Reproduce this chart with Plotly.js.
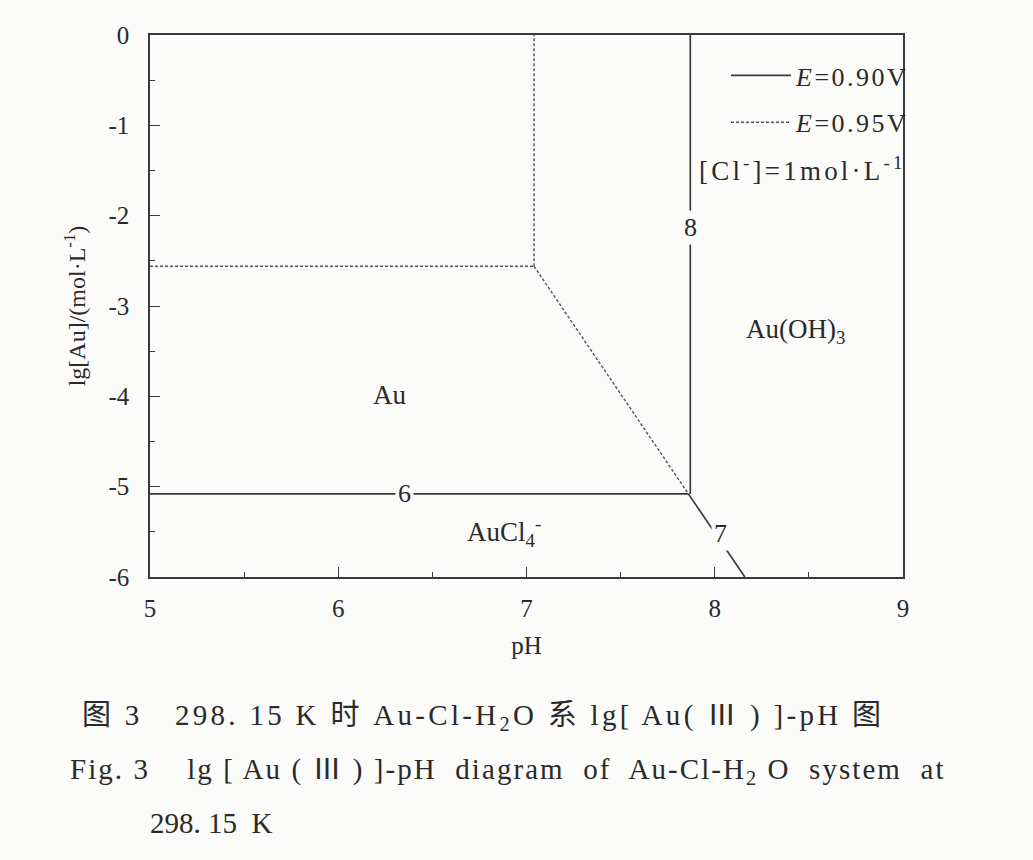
<!DOCTYPE html>
<html>
<head>
<meta charset="utf-8">
<script src="https://cdn.plot.ly/plotly-3.0.1.min.js"></script>
<style>html,body{margin:0;padding:0;background:#fbfbfa;}</style>
</head>
<body>
<div id="chart" style="width:1033px;height:860px;"></div>
<script>
// Boundary lines (pH, lg[Au])
const solidPH = [5.0, 7.86, null, 7.87, 7.87, null, 7.86, 8.16];
const solidLg = [-5.08, -5.08, null, -5.08, 0.0, null, -5.08, -6.0];
const dashPH = [5.0, 7.04, null, 7.04, 7.04, null, 7.04, 7.86];
const dashLg = [-2.56, -2.56, null, -2.56, 0.0, null, -2.56, -5.08];
// Line numbers and their positions
const lineLabels = ['6', '8', '7'];
const lineLabelPH = [6.35, 7.87, 8.03];
const lineLabelLg = [-5.08, -2.13, -5.52];
// Region names
const regionNames = ['Au', 'AuCl<sub>4</sub><sup>-</sup>', 'Au(OH)<sub>3</sub>'];
const regionPH = [6.27, 6.88, 8.43];
const regionLg = [-3.98, -5.5, -3.28];
const xTicks = [5, 6, 7, 8, 9];
const yTicks = [0, -1, -2, -3, -4, -5, -6];
const seriesNames = ['<i>E</i>=0.90V', '<i>E</i>=0.95V'];
const conditionText = '[Cl<sup>-</sup>]=1mol·L<sup>-1</sup>';
// Caption lines
const captionCN = '图 3　298. 15 K 时 Au-Cl-H<sub>2</sub>O 系 lg[ Au( Ⅲ ) ]-pH 图';
const captionEN = 'Fig. 3    lg [ Au ( Ⅲ ) ]-pH  diagram  of  Au-Cl-H<sub>2</sub> O  system  at';
const captionEN2 = '298. 15  K';

const serif = 'Liberation Serif, Times New Roman, serif';
const lineColor = '#3a3a3a';
const txt = '#2a2a2a';
const bg = '#fbfbfa';
const spaced = (t, px) => '<span style="letter-spacing:' + px + 'px">' + t + '</span>';

const traces = [
  {x: solidPH, y: solidLg, mode: 'lines', name: spaced(seriesNames[0], 2.5),
   legendgroup: 'a', line: {color: lineColor, width: 1.7}, connectgaps: false, hoverinfo: 'skip'},
  {x: dashPH, y: dashLg, mode: 'lines', name: spaced(seriesNames[1], 2.5),
   legendgroup: 'b', line: {color: '#555', width: 1.4, dash: '3px,2px'}, connectgaps: false, hoverinfo: 'skip'}
];

const plotW = 1033 - 150 - 130, plotH = 860 - 35 - 283;
const px2x = p => (p - 150) / plotW;
const px2y = p => 1 - (p - 35) / plotH;

const annotations = [];
lineLabels.forEach((t, i) => annotations.push({
  x: lineLabelPH[i], y: lineLabelLg[i], xref: 'x', yref: 'y', text: t, showarrow: false,
  font: {family: serif, size: 26, color: txt}, bgcolor: bg, borderpad: 2
}));
regionNames.forEach((t, i) => annotations.push({
  x: regionPH[i], y: regionLg[i], xref: 'x', yref: 'y', text: t, showarrow: false,
  font: {family: serif, size: 27, color: txt}
}));
annotations.push({
  x: px2x(697), y: px2y(169), xref: 'paper', yref: 'paper',
  text: spaced(conditionText, 3.2),
  showarrow: false, xanchor: 'left', yanchor: 'middle',
  font: {family: serif, size: 27, color: txt}
});
// caption
const capFont = {family: 'Liberation Serif, Noto Sans CJK SC, serif', size: 29, color: txt};
annotations.push(
  {x: px2x(80), y: px2y(717), xref: 'paper', yref: 'paper', text: spaced(captionCN, 3.3),
   showarrow: false, xanchor: 'left', yanchor: 'middle', font: capFont},
  {x: px2x(68), y: px2y(771), xref: 'paper', yref: 'paper', text: spaced(captionEN, 2.05),
   showarrow: false, xanchor: 'left', yanchor: 'middle', font: capFont},
  {x: px2x(148), y: px2y(823), xref: 'paper', yref: 'paper', text: captionEN2,
   showarrow: false, xanchor: 'left', yanchor: 'middle', font: capFont}
);

const layout = {
  width: 1033, height: 860,
  margin: {l: 150, r: 130, t: 35, b: 283},
  paper_bgcolor: bg, plot_bgcolor: bg,
  showlegend: true,
  legend: {x: px2x(915), xanchor: 'right', y: px2y(52), yanchor: 'top', bgcolor: 'rgba(0,0,0,0)',
           traceorder: 'grouped', font: {family: serif, size: 26, color: txt}, tracegroupgap: 10, itemwidth: 60},
  xaxis: {range: [5, 9], tickvals: xTicks, ticktext: xTicks.map(String), ticks: 'inside', ticklen: 10,
          tickcolor: lineColor, showline: true, linecolor: lineColor, linewidth: 1.7, mirror: true,
          showgrid: false, zeroline: false, ticklabelstandoff: 8,
          minor: {dtick: 0.5, ticks: 'inside', ticklen: 5, tickcolor: lineColor, showgrid: false},
          tickfont: {family: serif, size: 25, color: txt},
          title: {text: 'pH', font: {family: serif, size: 25, color: txt}, standoff: 16}},
  yaxis: {range: [-6, 0], tickvals: yTicks, ticktext: yTicks.map(String), ticks: 'inside', ticklen: 10,
          tickcolor: lineColor, showline: true, linecolor: lineColor, linewidth: 1.7, mirror: true,
          showgrid: false, zeroline: false, ticklabelstandoff: 14,
          minor: {dtick: 0.5, ticks: 'inside', ticklen: 5, tickcolor: lineColor, showgrid: false},
          tickfont: {family: serif, size: 25, color: txt},
          title: {text: 'lg[Au]/(mol·L<sup>-1</sup>)', font: {family: serif, size: 24, color: txt}, standoff: 16}},
  annotations: annotations
};

Plotly.newPlot('chart', traces, layout, {displayModeBar: false, staticPlot: true});
</script>
</body>
</html>
